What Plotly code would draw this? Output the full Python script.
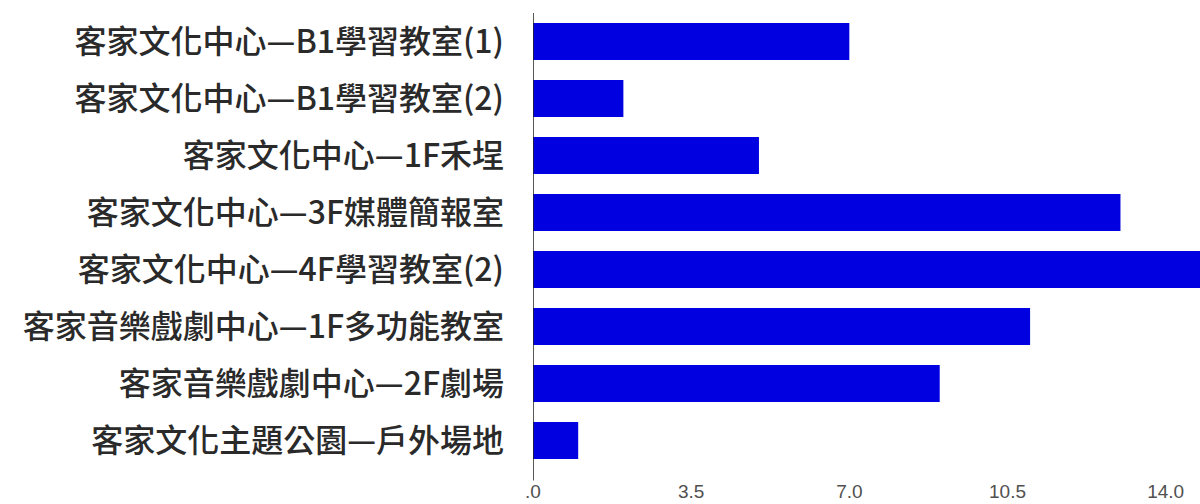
import plotly.graph_objects as go

categories = [
    "客家文化中心—B1學習教室(1)",
    "客家文化中心—B1學習教室(2)",
    "客家文化中心—1F禾埕",
    "客家文化中心—3F媒體簡報室",
    "客家文化中心—4F學習教室(2)",
    "客家音樂戲劇中心—1F多功能教室",
    "客家音樂戲劇中心—2F劇場",
    "客家文化主題公園—戶外場地",
]
values = [7, 2, 5, 13, 15, 11, 9, 1]
tick_vals = [0, 3.5, 7.0, 10.5, 14.0]
tick_text = [".0", "3.5", "7.0", "10.5", "14.0"]

fig = go.Figure(
    go.Bar(
        x=values,
        y=categories,
        orientation="h",
        marker=dict(color="#0000E0", line=dict(width=0)),
        width=0.65,
    )
)

fig.update_layout(
    width=1200,
    height=504,
    margin=dict(l=533, r=0, t=13, b=35),
    paper_bgcolor="white",
    plot_bgcolor="white",
    showlegend=False,
    bargap=0.35,
)

fig.update_xaxes(
    range=[0, 14.76],
    tickvals=tick_vals,
    ticktext=tick_text,
    showgrid=False,
    zeroline=False,
    showline=False,
    ticks="",
    tickfont=dict(family="Liberation Sans, Arial", size=19, color="#505050"),
    ticklabelstandoff=9,
)

fig.update_yaxes(
    autorange="reversed",
    showgrid=False,
    zeroline=False,
    showline=False,
    ticks="",
    ticklabelstandoff=28,
    tickfont=dict(family="Noto Sans CJK TC, Noto Sans CJK SC", size=32, color="#2a2a2a", weight=500),
)

fig.add_shape(
    type="line",
    xref="x", yref="paper",
    x0=0, x1=0, y0=-0.025, y1=1.0,
    line=dict(color="#222222", width=1.5),
)

fig.write_html(
    "out.html",
    config={"displayModeBar": False},
    post_script="document.body.style.margin='0';document.body.style.overflow='hidden';",
)
